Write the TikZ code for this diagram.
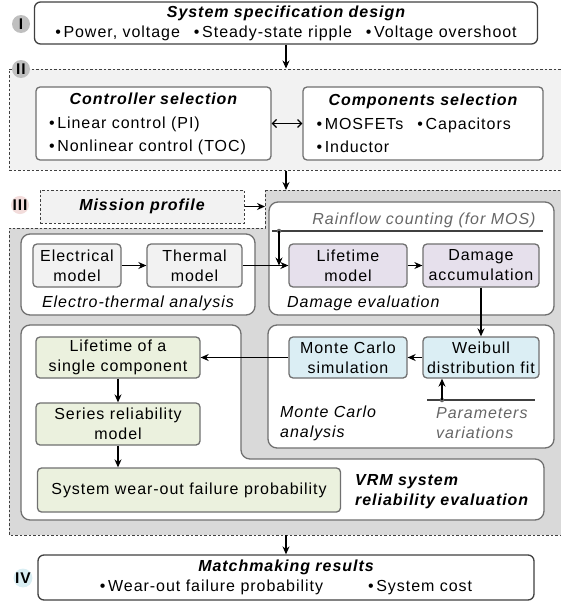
\documentclass[tikz,border=0pt]{standalone}
\usepackage{fontspec}
\setmainfont{Liberation Sans}[LetterSpace=6]
\usetikzlibrary{positioning,arrows.meta}
\definecolor{lightfill}{HTML}{F2F2F2}
\definecolor{regiongray}{HTML}{D9D9D9}
\definecolor{edgegray}{HTML}{707070}
\definecolor{damfill}{HTML}{E6E0EC}
\definecolor{mcfill}{HTML}{DBEEF4}
\definecolor{relfill}{HTML}{EBF1DE}
\definecolor{numgray}{HTML}{BFBFBF}
\definecolor{numpink}{HTML}{F2DCDB}
\definecolor{numblue}{HTML}{DAEEF3}
\begin{document}
\begin{tikzpicture}[x=1pt, y=-1pt, font=\fontsize{16}{20}\selectfont,
    box/.style = {draw=edgegray, line width=1.3pt, rounded corners=4pt, align=center, inner sep=0pt},
    panel/.style = {draw=edgegray, line width=1.3pt, fill=white, rounded corners=9pt, inner sep=0pt},
    stage/.style = {draw=black!75, line width=1.3pt, fill=white, rounded corners=6pt, align=center, inner sep=0pt},
    region/.style = {draw=black!75, line width=1pt, dash pattern=on 2.5pt off 2pt},
    num/.style = {circle, inner sep=0pt, minimum size=18pt, font=\fontsize{15.5}{15.5}\selectfont\bfseries},
    arr/.style = {-{Stealth[length=8pt,width=7pt]}, line width=1.2pt},
    title/.style = {font=\fontsize{16}{20}\selectfont\bfseries\itshape},
    note/.style = {font=\fontsize{16}{20}\selectfont\itshape, inner sep=0pt, align=left}]
    \useasboundingbox (0,0) rectangle (560,605);

    \node[region, fill=lightfill, minimum width=556pt, minimum height=101pt] (reg2) at (287,119.5) {};
    \draw[region, fill=regiongray] (265,190) -- (565,190) -- (565,535) -- (9,535) -- (9,228) -- (265,228) -- cycle;
    \coordinate (reg3top) at (286,190);
    \coordinate (reg3left) at (265,206.5);
    \coordinate (reg3bot) at (286,535);

    \node[stage, minimum width=503pt, minimum height=42pt] (spec) at (286,23) {{\bfseries\itshape System specification design}\\ \textbullet\,Power, voltage\hspace{14pt}\textbullet\,Steady-state ripple\hspace{14pt}\textbullet\,Voltage overshoot};
    \node[box, fill=white, minimum width=235pt, minimum height=73pt, align=left] (ctrl) at (153.5,123.5) {\makebox[209pt]{\bfseries\itshape Controller selection}\\[4pt] \textbullet\,Linear control (PI)\\[3pt] \textbullet\,Nonlinear control (TOC)};
    \node[box, fill=white, minimum width=240pt, minimum height=73pt, align=left] (comp) at (423,123.5) {\makebox[213pt]{\bfseries\itshape Components selection}\\[4pt] \textbullet\,MOSFETs\hspace{14pt}\textbullet\,Capacitors\\[3pt] \textbullet\,Inductor};
    \node[region, fill=lightfill, minimum width=204pt, minimum height=33pt, title] (mission) at (142,206.5) {Mission profile};

    \node[panel, minimum width=234pt, minimum height=81pt] (etpanel) at (138,274.5) {};
    \node[panel, minimum width=285pt, minimum height=113pt] (dmpanel) at (411.5,258.5) {};
    \node[panel, minimum width=286pt, minimum height=123pt] (mcpanel) at (411,386.5) {};
    \draw[panel] (21,325) -- (241,325) -- (241,459) -- (544,459) -- (544,520) -- (21,520) -- cycle;

    \node[box, fill=lightfill, minimum width=88pt, minimum height=43pt] (elec) at (77,265.5) {Electrical\\model};
    \node[box, fill=lightfill, minimum width=95pt, minimum height=43pt] (therm) [right of=elec, node distance=117.5pt] {Thermal\\model};
    \node[box, fill=damfill, minimum width=118pt, minimum height=43pt] (life) at (348,265.5) {Lifetime\\model};
    \node[box, fill=damfill, minimum width=116pt, minimum height=43pt] (dam) [right of=life, node distance=133pt] {Damage\\accumulation};
    \node[box, fill=mcfill, minimum width=118pt, minimum height=41pt] (mcs) at (348,357.5) {Monte Carlo\\simulation};
    \node[box, fill=mcfill, minimum width=116pt, minimum height=41pt] (weib) [right of=mcs, node distance=133pt] {Weibull\\distribution fit};
    \node[box, fill=relfill, minimum width=164pt, minimum height=41pt] (single) at (118,357.5) {Lifetime of a\\single component};
    \node[box, fill=relfill, minimum width=164pt, minimum height=42pt] (series) [below of=single, node distance=66.5pt] {Series reliability\\model};
    \node[box, fill=relfill, minimum width=303pt, minimum height=44pt] (sys) at (189,490) {System wear-out failure probability};

    \node[note] (etlabel) at (138,303) {Electro-thermal analysis};
    \node[note, anchor=west] (dmlabel) at (287,303) {Damage evaluation};
    \node[note, text=black!60] (rainflow) at (424,220) {Rainflow counting (for MOS)};
    \node[note, anchor=west] (mclabel) at (280,423) {Monte Carlo\\analysis};
    \node[note, anchor=west, text=black!60] (pvlabel) at (436,423) {Parameters\\variations};
    \node[title, anchor=west, align=left, inner sep=0pt] (vrmlabel) at (355,491.5) {VRM system\\reliability evaluation};

    \node[stage, minimum width=496pt, minimum height=45pt] (match) at (286,577.5) {{\bfseries\itshape Matchmaking results}\\ \textbullet\,Wear-out failure probability\hspace{45pt}\textbullet\,System cost};

    \draw[line width=1.2pt, black!75] (272,231) coordinate (rfstart) -- (543,231) coordinate (rfend);
    \node[circle, fill=black!60, inner sep=0pt, minimum size=4.5pt] (rfdot) at (279,231) {};
    \draw[line width=1.2pt, black!75] (427,400) coordinate (pvstart) -- (535,400) coordinate (pvend);
    \node[circle, fill=black!60, inner sep=0pt, minimum size=4.5pt] (pvdot) at (442,400) {};

    \draw[arr] (spec.south) -- (spec.south |- reg2.north);
    \draw[arr] (reg2.south -| spec.south) -- (reg3top);
    \draw[{Straight Barb[length=4pt,width=8pt]}-{Straight Barb[length=4pt,width=8pt]}, line width=1.2pt] (ctrl.east) -- (comp.west);
    \draw[arr] (mission.east) -- (mission.east -| reg3left);
    \draw[arr] (elec) -- (therm);
    \draw[arr] (therm) -- (life);
    \draw[arr] (rfdot.center) -- (rfdot.center |- life.west);
    \draw[arr] (life) -- (dam);
    \draw[arr] (dam) -- (weib);
    \draw[arr] (pvdot.center) -- (pvdot.center |- weib.south);
    \draw[arr] (weib) -- (mcs);
    \draw[arr] (mcs) -- (single);
    \draw[arr] (single) -- (series);
    \draw[arr] (series.south) -- (series.south |- sys.north);
    \draw[arr] (reg3bot) -- (match.north);

    \node[num, fill=numgray] (n1) at (21,24) {I};
    \node[num, fill=numgray] (n2) at (21,69) {II};
    \node[num, fill=numpink] (n3) at (20,205) {III};
    \node[num, fill=numblue] (n4) at (23,578) {IV};
\end{tikzpicture}
\end{document}
